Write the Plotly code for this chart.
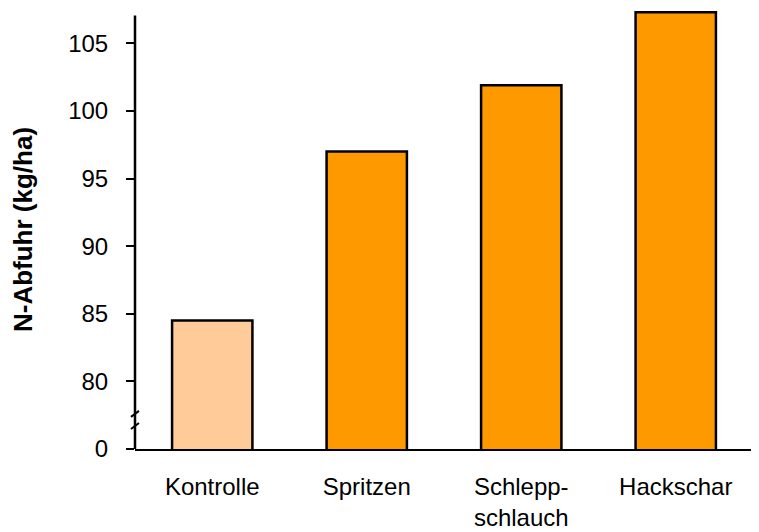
import plotly.graph_objects as go

categories = ["Kontrolle", "Spritzen", "Schlepp-<br>schlauch", "Hackschar"]
values = [84.5, 97.0, 101.9, 107.3]
bar_colors = ["#FFCC99", "#FF9900", "#FF9900", "#FF9900"]
tick_vals = [75, 80, 85, 90, 95, 100, 105]
tick_text = ["0", "80", "85", "90", "95", "100", "105"]

fig = go.Figure()
fig.add_trace(go.Bar(
    x=categories, y=values,
    marker=dict(color=bar_colors, line=dict(color="black", width=2.5)),
    width=0.52,
))

fam = "Liberation Sans, Arial, sans-serif"
yfont = dict(family=fam, size=24, color="black")
xfont = dict(family=fam, size=24, color="black")
tfont = dict(family=fam, size=26, color="black")

fig.update_layout(
    width=751, height=524,
    margin=dict(l=127, r=6, t=2, b=83),
    paper_bgcolor="white", plot_bgcolor="white",
    font=yfont,
    showlegend=False,
    xaxis=dict(
        range=[-0.5, 3.5], showline=True, linecolor="black", linewidth=2,
        ticks="", showgrid=False, tickfont=xfont, ticklabelstandoff=15,
        automargin=False,
    ),
    yaxis=dict(
        range=[75, 107.47], showline=False, showgrid=False, zeroline=False,
        tickvals=tick_vals, ticktext=tick_text, ticks="outside", ticklen=8,
        tickwidth=2, tickcolor="black", tickfont=yfont, ticklabelstandoff=13,
        title=dict(text="<b>N-Abfuhr (kg/ha)</b>", font=tfont, standoff=30),
        automargin=False,
    ),
    shapes=[
        dict(type="line", xref="paper", yref="y", x0=0, x1=0, y0=75, y1=107.07,
             line=dict(color="black", width=2.5)),
        dict(type="line", xref="paper", yref="y", xsizemode="pixel", ysizemode="pixel",
             xanchor=0, yanchor=77.6, x0=-4, x1=4, y0=-3, y1=3,
             line=dict(color="black", width=2)),
        dict(type="line", xref="paper", yref="y", xsizemode="pixel", ysizemode="pixel",
             xanchor=0, yanchor=76.7, x0=-4, x1=4, y0=-3, y1=3,
             line=dict(color="black", width=2)),
    ],
)

fig.write_html("out.html")
